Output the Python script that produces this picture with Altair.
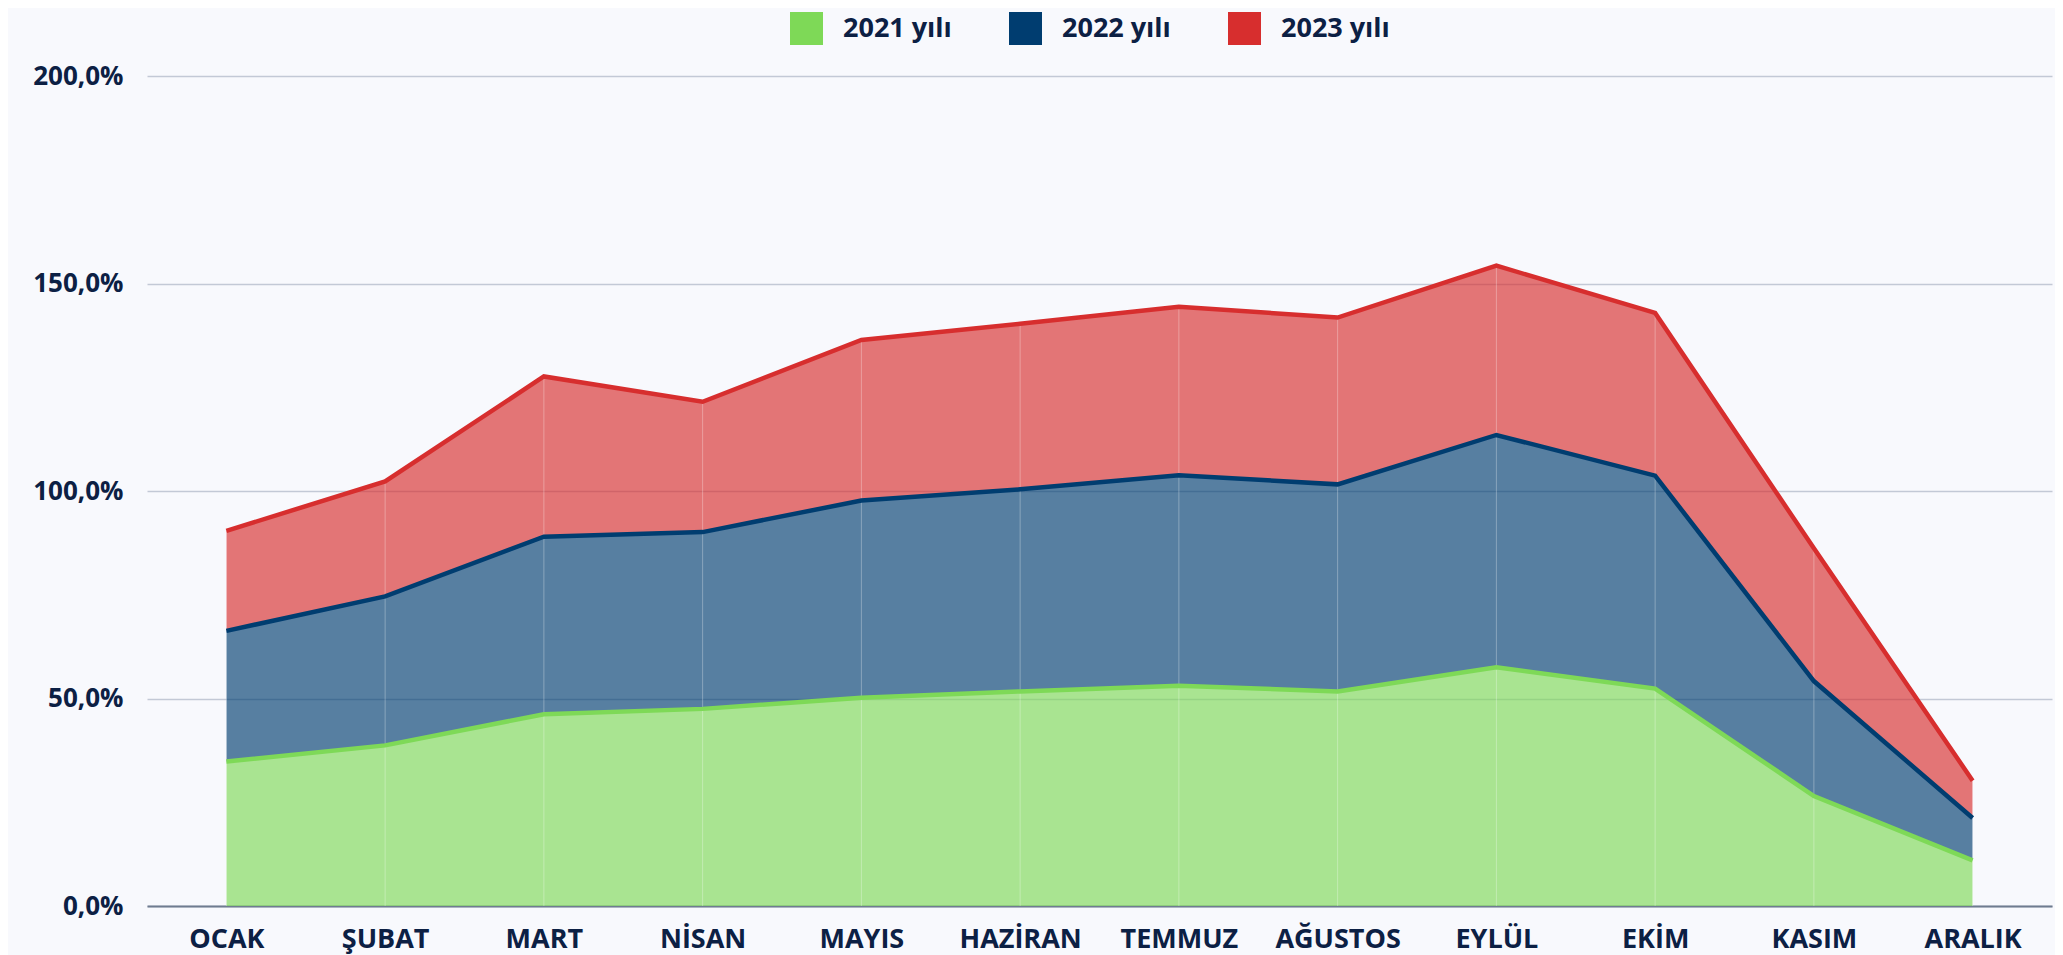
import altair as alt
import pandas as pd

months = ["OCAK", "ŞUBAT", "MART", "NİSAN", "MAYIS", "HAZİRAN",
          "TEMMUZ", "AĞUSTOS", "EYLÜL", "EKİM", "KASIM", "ARALIK"]
years = ["2021 yılı", "2022 yılı", "2023 yılı"]
v2021 = [34.8, 38.7, 46.2, 47.5, 50.2, 51.7, 53.1, 51.7, 57.5, 52.4, 26.5, 11.0]
v2022 = [31.5, 35.9, 42.8, 42.6, 47.5, 48.7, 50.7, 49.9, 56.0, 51.3, 27.7, 10.2]
v2023 = [24.1, 27.7, 38.6, 31.4, 38.7, 39.9, 40.6, 40.2, 40.8, 39.2, 32.0, 9.0]
y_ticks = [0, 50, 100, 150, 200]
colors = ["#7ed957", "#003d70", "#d72e2e"]

rows = []
for yi, (yr, vals) in enumerate(zip(years, [v2021, v2022, v2023])):
    for m, v in zip(months, vals):
        rows.append({"month": m, "year": yr, "yi": yi, "value": v})
df = pd.DataFrame(rows)

FONT = "Open Sans"
TXT = "#0c2044"

x_enc = alt.X("month:N", sort=months,
              scale=alt.Scale(type="point", padding=0.5),
              axis=alt.Axis(title=None, labelAngle=0, ticks=False, grid=False,
                            domain=True, domainColor="#6f7c90", domainWidth=2,
                            labelFont=FONT, labelFontSize=27, labelFontWeight="bold",
                            labelColor=TXT, labelPadding=41,
                            labelBaseline="alphabetic"))
y_enc = alt.Y("top:Q", scale=alt.Scale(domain=[0, 200], nice=False, zero=True),
              axis=alt.Axis(title=None, values=y_ticks, ticks=False, domain=False,
                            grid=True, gridColor="#c3c9d6", gridWidth=1.5,
                            labelFont=FONT, labelFontSize=26, labelFontWeight="bold",
                            labelColor=TXT, labelPadding=24,
                            labelExpr="replace(format(datum.value, '.1f'), '.', ',') + '%'"))
color_enc = alt.Color("year:N",
                      scale=alt.Scale(domain=years, range=colors),
                      legend=alt.Legend(title=None, orient="none", direction="horizontal",
                                        legendX=643, legendY=-64,
                                        symbolType="square", symbolSize=1089,
                                        symbolOpacity=1,
                                        symbolStrokeWidth=0,
                                        labelFont=FONT, labelFontSize=27,
                                        labelFontWeight="bold", labelColor=TXT,
                                        labelOffset=20, columnPadding=57,
                                        labelBaseline="middle"))

base = alt.Chart(df).transform_window(
    top="sum(value)", groupby=["month"], sort=[alt.SortField("yi", order="ascending")],
    frame=[None, 0]
).transform_calculate(bottom="datum.top - datum.value")

area = base.mark_area(opacity=0.65).encode(
    x=x_enc, y=y_enc, y2="bottom:Q", color=color_enc,
    order=alt.Order("yi:Q"))

line = base.mark_line(strokeWidth=4.5).encode(
    x=x_enc, y=y_enc, color=color_enc, detail="year:N")

rules = base.transform_filter("datum.yi == 2").mark_rule(
    color="white", opacity=0.3, strokeWidth=1).encode(
    x=alt.X("month:N", sort=months), y=alt.Y("top:Q"), y2=alt.value(830))

chart = alt.layer(area, rules, line).properties(
    width=1905, height=830,
    autosize=alt.AutoSizeParams(type="none"),
    padding={"left": 139, "top": 68, "right": 3, "bottom": 49},
    background="#f8f9fd"
).configure_view(stroke=None)

chart.save("out.html", embed_options={"renderer": "svg", "actions": False})
